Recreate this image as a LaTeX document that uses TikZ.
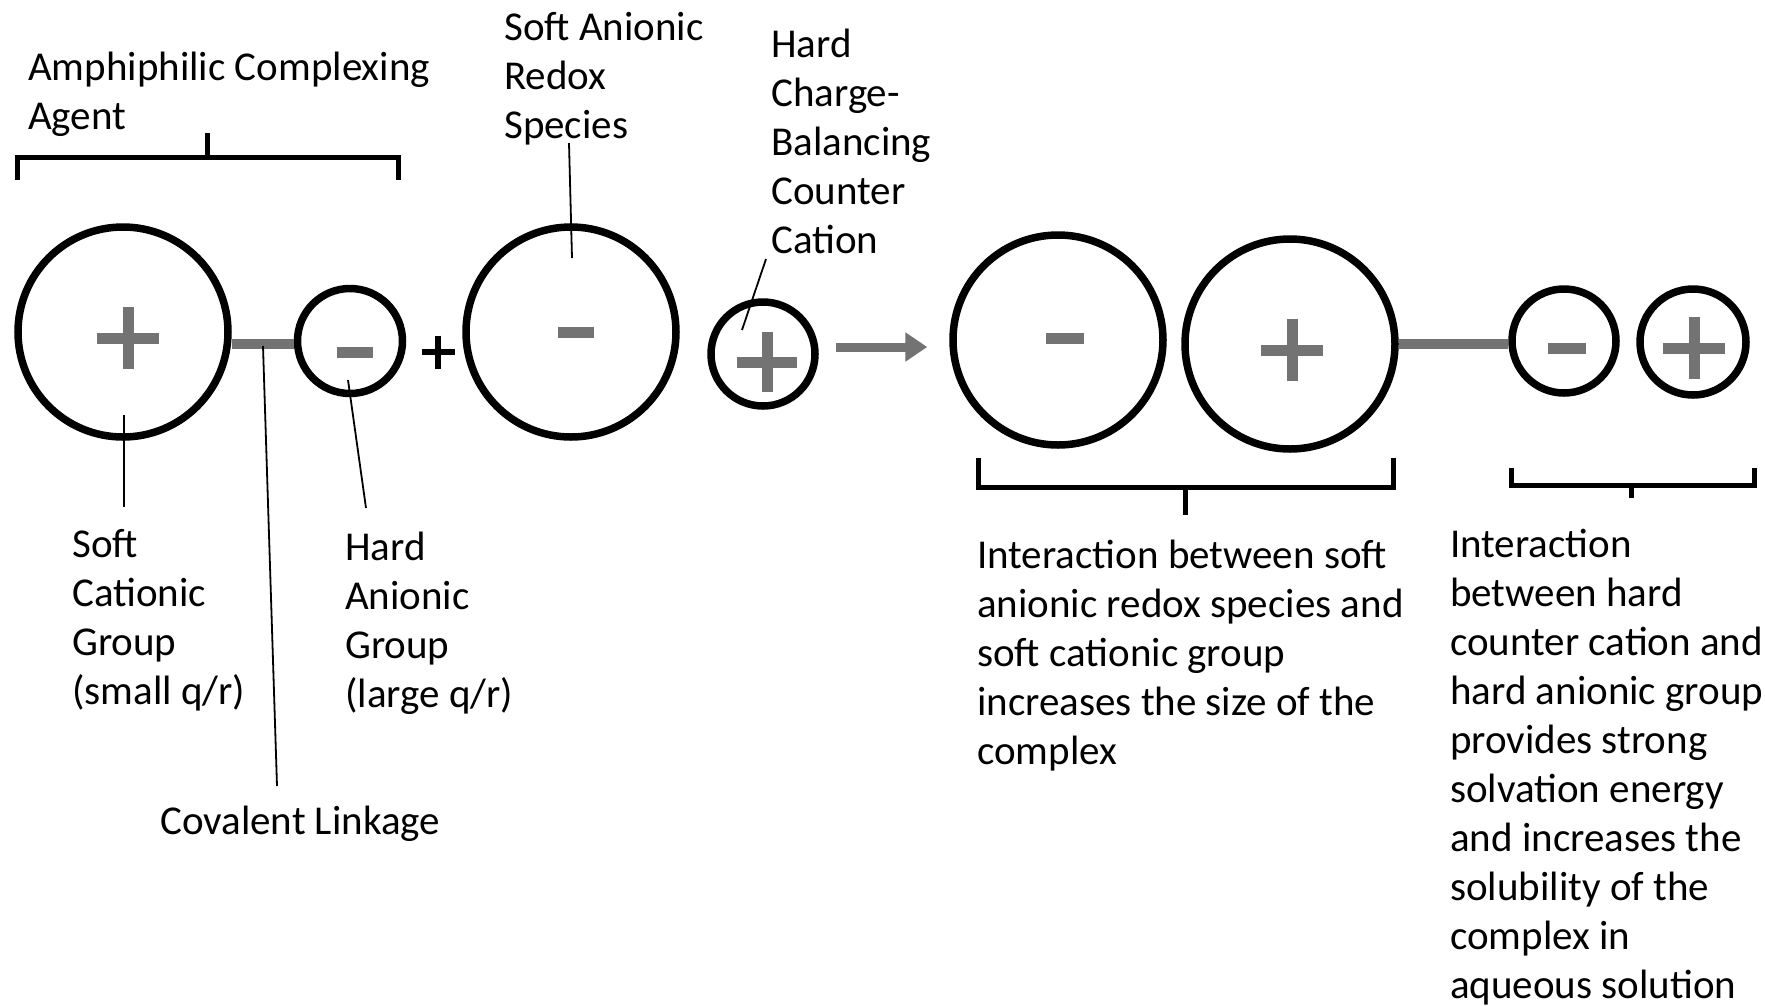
\documentclass[tikz,border=0pt]{standalone}
\usepackage{fontspec}
\setmainfont{Carlito}
\usetikzlibrary{arrows.meta,calc}
\definecolor{signgray}{gray}{0.45}
\begin{document}
\begin{tikzpicture}[x=1pt,y=-1pt,
  ion/.style={circle,draw=black,line width=7.5pt,inner sep=0pt},
  sign/.style={draw=signgray,line width=11pt},
  linkage/.style={draw=signgray,line width=10pt},
  leader/.style={draw=black,line width=1.8pt},
  brace/.style={draw=black,line width=5pt,line join=miter},
  lbl/.style={font=\fontsize{41}{49}\selectfont,align=left,inner sep=0pt,anchor=base west},
  garrow/.style={draw=signgray,line width=9pt,-{Triangle[length=22pt,width=28pt]},signgray}]
\useasboundingbox (0,0) rectangle (1765,1005);
\fill[white] (0,0) rectangle (1765,1005);

% linkages (drawn below the rings)
\coordinate (k1a) at (228,344); \coordinate (k1b) at (300,344);
\coordinate (k2a) at (1395,344); \coordinate (k2b) at (1512,344);

% ions
\node[ion,minimum size=210pt] (c1) at (123,332) {};
\node[ion,minimum size=105pt] (c2) at (350,341) {};
\node[ion,minimum size=210pt] (c3) at (571,332) {};
\node[ion,minimum size=104pt] (c4) at (763,354) {};
\node[ion,minimum size=210pt] (c5) at (1058,340) {};
\node[ion,minimum size=210pt] (c6) at (1290,344) {};
\node[ion,minimum size=104pt] (c7) at (1564,341) {};
\node[ion,minimum size=106pt] (c8) at (1693,342) {};

\draw[linkage] (c1.east |- k1a) -- (c2.west |- k1b);
\draw[linkage] (c6.east |- k2a) -- (c7.west |- k2b);

% charge signs
\draw[sign] (128,338) ++(-31,0) -- ++(62,0) (128,338) ++(0,-31) -- ++(0,62);
\draw[sign] (355,352) ++(-18,0) -- ++(36,0);
\draw[sign] (576,332) ++(-18,0) -- ++(36,0);
\draw[sign] (767,362) ++(-30,0) -- ++(60,0) (767,362) ++(0,-30) -- ++(0,60);
\draw[sign] (1065,338) ++(-19,0) -- ++(38,0);
\draw[sign] (1292,350) ++(-31,0) -- ++(62,0) (1292,350) ++(0,-31) -- ++(0,62);
\draw[sign] (1567,348) ++(-19,0) -- ++(38,0);
\draw[sign] (1694,348) ++(-31,0) -- ++(62,0) (1694,348) ++(0,-31) -- ++(0,62);

% plus between
\draw[black,line width=6pt] (438,352) ++(-16.5,0) -- ++(33,0) (438,352) ++(0,-16.5) -- ++(0,33);

% reaction arrow
\draw[garrow] ($(c4.east)+(17,-7)$) -- ($(c5.west)+(-22,7)$);

% braces
\draw[brace] (17,180) -- (17,157) -- (398,157) -- (398,180);
\draw[brace] (207,157) -- (207,133);
\draw[brace] (978,458) -- (978,487) -- (1393,487) -- (1393,458);
\draw[brace] (1185,487) -- (1185,515);
\draw[brace] (1511,468) -- (1511,485) -- (1754,485) -- (1754,468);
\draw[brace] (1631,485) -- (1631,498);

% labels (anchored at the baseline of the last line)
\node[lbl] (amph) at (28,129) {Amphiphilic Complexing\\Agent};
\node[lbl] (redox) at (504,138) {Soft Anionic\\Redox\\Species};
\node[lbl] (counter) at (771,253) {Hard\\Charge-\\Balancing\\Counter\\Cation};
\node[lbl] (softcat) at (72,704) {Soft\\Cationic\\Group\\(small q/r)};
\node[lbl] (hardan) at (345,707) {Hard\\Anionic\\Group\\(large q/r)};
\node[lbl] (cov) at (160,834) {Covalent Linkage};
\node[lbl] (int1) at (977,764) {Interaction between soft\\anionic redox species and\\soft cationic group\\increases the size of the\\complex};
\node[lbl] (int2) at (1450,998) {Interaction\\between hard\\counter cation and\\hard anionic group\\provides strong\\solvation energy\\and increases the\\solubility of the\\complex in\\aqueous solution};

% leader lines
\coordinate (la1) at (124,415); \coordinate (lb1) at (124,507);
\coordinate (la2) at (263,346); \coordinate (lb2) at (277,786);
\coordinate (la3) at (348,380); \coordinate (lb3) at (366,508);
\coordinate (la4) at (572,258); \coordinate (lb4) at (569,143);
\coordinate (la5) at (742,330); \coordinate (lb5) at (766,259);
\draw[leader] (la1) -- (lb1);
\draw[leader] (la2) -- (lb2);
\draw[leader] (la3) -- (lb3);
\draw[leader] (la4) -- (lb4);
\draw[leader] (la5) -- (lb5);
\end{tikzpicture}
\end{document}
